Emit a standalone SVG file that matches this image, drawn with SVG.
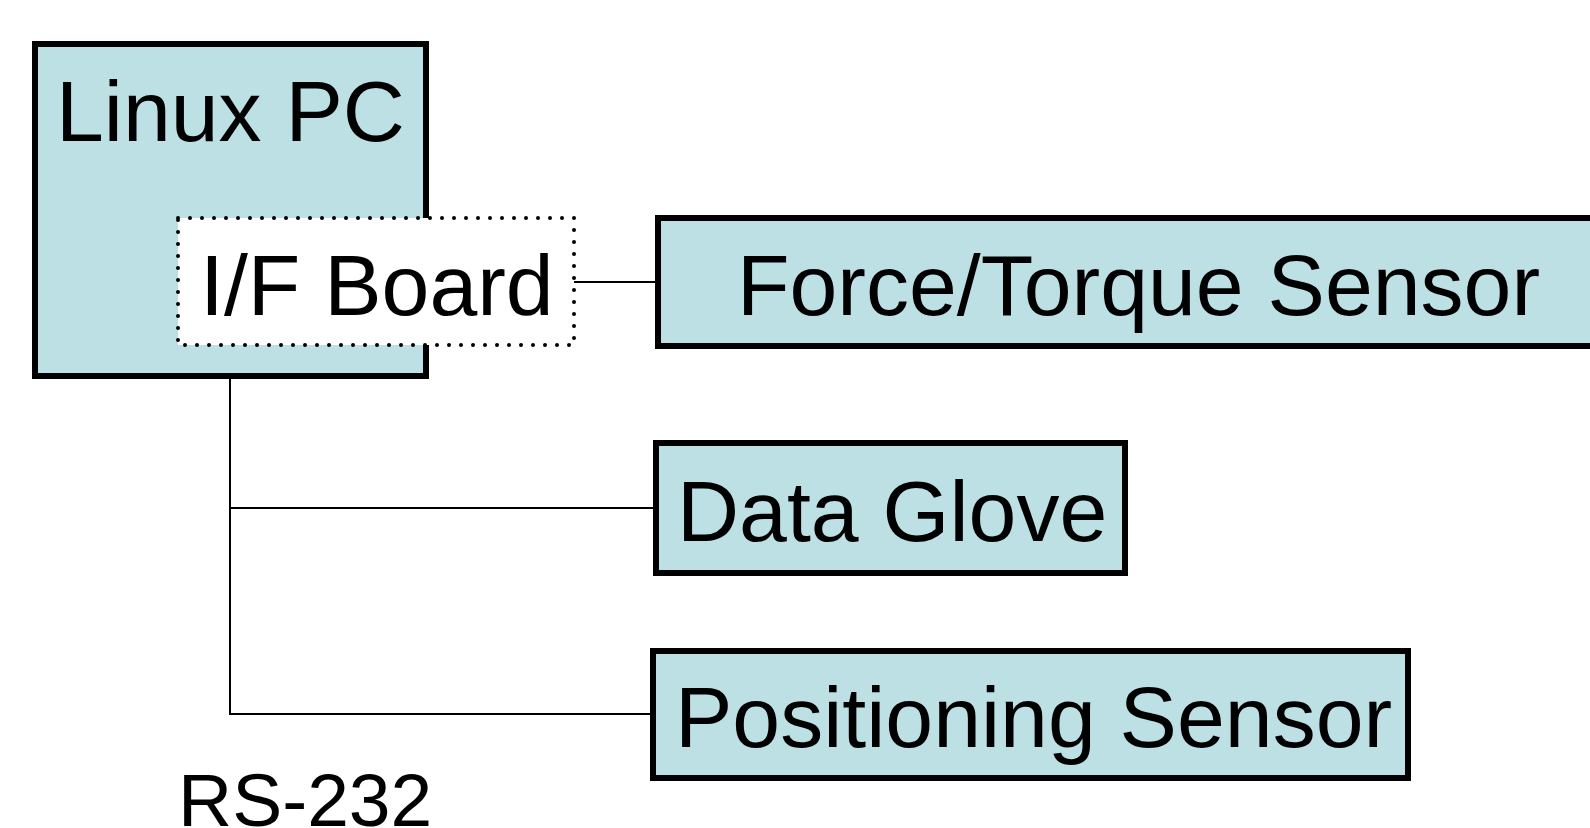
<svg xmlns="http://www.w3.org/2000/svg" width="1590" height="828" viewBox="0 0 1590 828">
<style>
.box{fill:#bce0e3;stroke:#000;stroke-width:6}
.lbl{font-family:"Liberation Sans",Arial,sans-serif;font-size:86px;fill:#000}
.wire{stroke:#000;stroke-width:2;fill:none}
</style>
<rect width="1590" height="828" fill="#fff"/>
<g id="linux-pc">
<rect class="box" x="35" y="44" width="391" height="332"/>
<text class="lbl" x="56" y="141">Linux PC</text>
</g>
<g id="if-board">
<rect x="178" y="218" width="396" height="127" fill="#fff" stroke="#000" stroke-width="4" stroke-linecap="round" stroke-dasharray="0 12"/>
<text class="lbl" x="200" y="315">I/F Board</text>
</g>
<g id="connectors">
<line class="wire" x1="574" y1="282" x2="658" y2="282"/>
<polyline class="wire" points="230,379 230,714 653,714"/>
<line class="wire" x1="230" y1="508" x2="656" y2="508"/>
</g>
<g id="force-torque-sensor">
<rect class="box" x="658" y="218" width="950" height="128"/>
<text class="lbl" x="737" y="315">Force/Torque Sensor</text>
</g>
<g id="data-glove">
<rect class="box" x="656" y="443" width="469" height="130"/>
<text class="lbl" x="677" y="541">Data Glove</text>
</g>
<g id="positioning-sensor">
<rect class="box" x="653" y="651" width="755" height="127"/>
<text class="lbl" x="675" y="747">Positioning Sensor</text>
</g>
<g id="rs232-label">
<text class="lbl" x="178" y="826" style="font-size:75px">RS-232</text>
</g>
</svg>
